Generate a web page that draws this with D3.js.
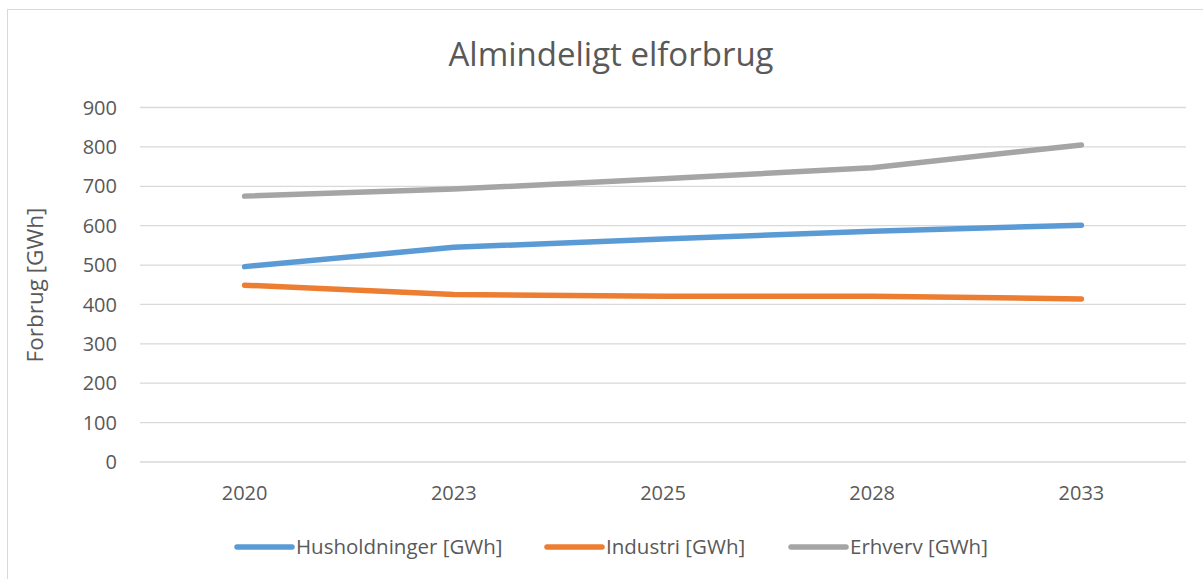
<!DOCTYPE html>
<html>
<head>
<meta charset="utf-8" />
<style>
  body { margin: 0; background: #fff; }
  svg { display: block; font-family: "Open Sans", sans-serif; }
</style>
<title>Almindeligt elforbrug</title>
</head>
<body>
<script src="https://cdn.jsdelivr.net/npm/d3@7"></script>
<script>
// data
const years = ["2020", "2023", "2025", "2028", "2033"];
const husholdninger = [496, 545, 566, 586, 601];
const industri = [449, 425, 421, 421, 414];
const erhverv = [675, 693, 719, 747, 805];
const yTicks = [0, 100, 200, 300, 400, 500, 600, 700, 800, 900];
const seriesNames = ["Husholdninger [GWh]", "Industri [GWh]", "Erhverv [GWh]"];
const seriesColors = ["#5B9BD5", "#ED7D31", "#A5A5A5"];

const W = 1203, H = 579;
const svg = d3.select("body").append("svg").attr("width", W).attr("height", H);

// chart frame
svg.append("rect")
  .attr("x", 7.5).attr("y", 9.5).attr("width", 1200).attr("height", 580)
  .attr("fill", "#fff").attr("stroke", "#D9D9D9").attr("stroke-width", 1);

const x = d3.scaleBand().domain(years).range([140, 1186]);
const y = d3.scaleLinear().domain([0, 900]).range([462, 107.5]);

// gridlines
svg.append("g").selectAll("line").data(yTicks).join("line")
  .attr("x1", 140).attr("x2", 1186)
  .attr("y1", d => y(d)).attr("y2", d => y(d))
  .attr("stroke", "#D9D9D9").attr("stroke-width", 1.3);

// y tick labels
svg.append("g").selectAll("text").data(yTicks).join("text")
  .attr("x", 117).attr("y", d => y(d))
  .attr("dy", "0.36em").attr("text-anchor", "end")
  .attr("fill", "#595959").attr("font-size", 20)
  .text(d => d);

// x tick labels
svg.append("g").selectAll("text").data(years).join("text")
  .attr("x", d => x(d) + x.bandwidth() / 2).attr("y", 493)
  .attr("dy", "0.36em").attr("text-anchor", "middle")
  .attr("fill", "#595959").attr("font-size", 20)
  .text(d => d);

// axis title
svg.append("text")
  .attr("transform", "translate(35,285) rotate(-90)")
  .attr("text-anchor", "middle").attr("dy", "0.36em")
  .attr("fill", "#595959").attr("font-size", 22.5)
  .text("Forbrug [GWh]");

// chart title
svg.append("text")
  .attr("x", 611).attr("y", 54).attr("dy", "0.36em")
  .attr("text-anchor", "middle").attr("fill", "#595959")
  .attr("font-size", 33)
  .text("Almindeligt elforbrug");

const series = [husholdninger, industri, erhverv];
const line = d3.line()
  .x((d, i) => x(years[i]) + x.bandwidth() / 2)
  .y(d => y(d));

svg.append("g").selectAll("path").data(series).join("path")
  .attr("d", line)
  .attr("fill", "none")
  .attr("stroke", (d, i) => seriesColors[i])
  .attr("stroke-width", 5.5)
  .attr("stroke-linecap", "round")
  .attr("stroke-linejoin", "round");

// legend
const legendX = [237, 547, 791];
const lg = svg.append("g").selectAll("g").data(seriesNames).join("g")
  .attr("transform", (d, i) => "translate(" + legendX[i] + ",547)");
lg.append("line")
  .attr("x1", 0).attr("x2", 55).attr("y1", 0).attr("y2", 0)
  .attr("stroke", (d, i) => seriesColors[i])
  .attr("stroke-width", 5.5).attr("stroke-linecap", "round");
lg.append("text")
  .attr("x", 59).attr("dy", "0.36em")
  .attr("fill", "#595959").attr("font-size", 20.5)
  .text(d => d);
</script>
</body>
</html>
